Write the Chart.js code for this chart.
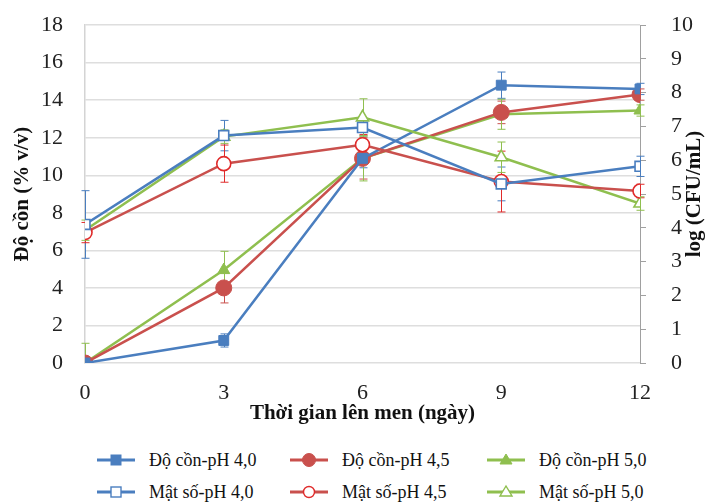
<!DOCTYPE html>
<html>
<head>
<meta charset="utf-8">
<script src="https://cdn.jsdelivr.net/npm/chart.js@4.4.1/dist/chart.umd.min.js"></script>
<style>
  html, body { margin: 0; padding: 0; background: #fff; }
  #wrap { position: relative; width: 705px; height: 503px; }
  #legend { position: absolute; left: 0; top: 440px; width: 705px; height: 63px;
    font-family: "Liberation Serif", "DejaVu Serif", serif; font-size: 18px; color: #111; }
  .item { position: absolute; display: flex; align-items: center; height: 24px; }
  .item svg { margin-right: 14px; }
</style>
</head>
<body>
<div id="wrap">
  <canvas id="chart" width="705" height="440"></canvas>
  <div id="legend"></div>
</div>
<script>
  "use strict";

  var days = [0, 3, 6, 9, 12];
  var leftTicks = [0, 2, 4, 6, 8, 10, 12, 14, 16, 18];
  var rightTicks = [0, 1, 2, 3, 4, 5, 6, 7, 8, 9, 10];

  // alcohol content (% v/v), left axis
  var alcPH40 = [0, 1.2, 10.9, 14.8, 14.6];
  var alcPH45 = [0, 4.0, 10.9, 13.35, 14.3];
  var alcPH50 = [0, 4.95, 10.9, 13.25, 13.45];
  var alcErr40 = [0, 0.35, 0.5, 0.7, 0.3];
  var alcErr45 = [0, 0.8, 1.1, 0.6, 0.3];
  var alcErr50 = [1.05, 1.0, 1.2, 0.8, 0.3];

  // cell density log(CFU/mL), right axis
  var denPH40 = [4.1, 6.73, 6.97, 5.3, 5.82];
  var denPH45 = [3.86, 5.9, 6.46, 5.37, 5.09];
  var denPH50 = [3.93, 6.7, 7.27, 6.09, 4.72];
  var denErr40 = [1.0, 0.45, 0.25, 0.5, 0.3];
  var denErr45 = [0.3, 0.55, 0.3, 0.9, 0.2];
  var denErr50 = [0.3, 0.2, 0.55, 0.45, 0.2];

  var BLUE = "#4a7ebf";
  var RED = "#c9504d";
  var RED_HOLLOW = "#e02b2b";
  var GREEN = "#8fbf4f";
  var SERIF = "'Liberation Serif', 'DejaVu Serif', serif";

  function pts(vals) {
    return days.map(function (d, i) { return { x: d, y: vals[i] }; });
  }

  function ds(label, vals, err, axis, color, markerColor, style, filled, radius) {
    return {
      label: label,
      data: pts(vals),
      errors: err,
      yAxisID: axis,
      borderColor: color,
      borderWidth: 2.5,
      pointStyle: style,
      pointRadius: radius,
      pointBorderWidth: filled ? 1 : 1.6,
      pointBorderColor: markerColor,
      pointBackgroundColor: filled ? markerColor : "#ffffff",
      errColor: markerColor,
      filled: filled,
      fill: false,
      tension: 0
    };
  }

  var datasets = [
    ds("Mật số-pH 4,0", denPH40, denErr40, "yR", BLUE, BLUE, "rect", false, 7),
    ds("Mật số-pH 4,5", denPH45, denErr45, "yR", RED, RED_HOLLOW, "circle", false, 7),
    ds("Mật số-pH 5,0", denPH50, denErr50, "yR", GREEN, GREEN, "triangle", false, 7),
    ds("Độ cồn-pH 4,0", alcPH40, alcErr40, "y", BLUE, BLUE, "rect", true, 7),
    ds("Độ cồn-pH 4,5", alcPH45, alcErr45, "y", RED, RED, "circle", true, 8),
    ds("Độ cồn-pH 5,0", alcPH50, alcErr50, "y", GREEN, GREEN, "triangle", true, 7)
  ];

  var errorBars = {
    id: "errorBars",
    beforeDatasetsDraw: function (chart) {
      var ctx = chart.ctx;
      var area = chart.chartArea;
      ctx.save();
      ctx.beginPath();
      ctx.rect(area.left - 6, area.top, area.right - area.left + 12, area.bottom - area.top);
      ctx.clip();
      chart.data.datasets.forEach(function (d) {
        var ys = chart.scales[d.yAxisID];
        var xs = chart.scales.x;
        ctx.strokeStyle = d.errColor;
        ctx.lineWidth = 1;
        d.data.forEach(function (p, i) {
          var e = d.errors[i];
          if (!e) return;
          var px = Math.round(xs.getPixelForValue(p.x)) + 0.5;
          var top = ys.getPixelForValue(p.y + e);
          var bot = ys.getPixelForValue(p.y - e);
          ctx.beginPath();
          ctx.moveTo(px, top); ctx.lineTo(px, bot);
          ctx.moveTo(px - 4, top); ctx.lineTo(px + 4, top);
          ctx.moveTo(px - 4, bot); ctx.lineTo(px + 4, bot);
          ctx.stroke();
        });
      });
      ctx.restore();
    }
  };

  var rightTitle = {
    id: "rightTitle",
    afterDraw: function (chart) {
      var ctx = chart.ctx;
      var area = chart.chartArea;
      ctx.save();
      ctx.translate(695, (area.top + area.bottom) / 2);
      ctx.rotate(-Math.PI / 2);
      ctx.textAlign = "center";
      ctx.textBaseline = "middle";
      ctx.fillStyle = "#111";
      ctx.font = "bold 21px " + SERIF;
      ctx.fillText("log (CFU/mL)", 0, 0);
      ctx.restore();
    }
  };

  new Chart(document.getElementById("chart"), {
    type: "line",
    data: { datasets: datasets },
    options: {
      responsive: false,
      animation: false,
      layout: { padding: { top: 24, left: 10, right: 0, bottom: 14 } },
      plugins: { legend: { display: false }, tooltip: { enabled: false } },
      scales: {
        x: {
          type: "linear",
          min: 0, max: 12,
          afterBuildTicks: function (s) { s.ticks = days.map(function (v) { return { value: v }; }); },
          grid: { display: false },
          border: { display: false },
          ticks: { color: "#222", font: { family: SERIF, size: 22 }, padding: 9 },
          title: { display: true, text: "Thời gian lên men (ngày)", color: "#111",
            font: { family: SERIF, size: 21, weight: "bold" }, padding: { top: 2, bottom: 0 } },
          afterFit: function (s) { s.height = 63; }
        },
        y: {
          position: "left",
          min: 0, max: 18,
          afterBuildTicks: function (s) { s.ticks = leftTicks.map(function (v) { return { value: v }; }); },
          grid: { color: "#dedede", lineWidth: 1.5, drawTicks: true, tickLength: 16, tickColor: "rgba(0,0,0,0)" },
          border: { display: true, color: "#d4d4d4", width: 1.5 },
          ticks: { color: "#222", font: { family: SERIF, size: 22, lineHeight: 0.7 }, padding: 6 },
          title: { display: true, text: "Độ cồn (% v/v)", color: "#111",
            font: { family: SERIF, size: 21, weight: "bold" }, padding: { top: 0, bottom: 4 } },
          afterFit: function (s) { s.width = 75; }
        },
        yR: {
          position: "right",
          min: 0, max: 10,
          afterBuildTicks: function (s) { s.ticks = rightTicks.map(function (v) { return { value: v }; }); },
          grid: { drawOnChartArea: false, drawTicks: true, tickLength: 6, color: "#a0a0a0" },
          border: { display: true, color: "#a0a0a0", width: 1 },
          ticks: { color: "#222", font: { family: SERIF, size: 22, lineHeight: 0.01 }, padding: 25 },
          afterFit: function (s) { s.width = 65; }
        }
      }
    },
    plugins: [errorBars, rightTitle]
  });

  // legend, laid out like the reference: two rows of three
  var legendOrder = [3, 4, 5, 0, 1, 2];
  var colX = [97, 290, 487];
  var rowY = [8, 40];
  function markerSvg(d) {
    var c = d.pointBorderColor;
    var f = d.filled ? c : "#fff";
    var sw = d.filled ? 1 : 1.4;
    var shape;
    if (d.pointStyle === "rect") {
      shape = '<rect x="14" y="7" width="10" height="10" fill="' + f + '" stroke="' + c + '" stroke-width="' + sw + '"/>';
    } else if (d.pointStyle === "circle") {
      shape = '<circle cx="19" cy="12" r="' + (d.filled ? 6.5 : 5.5) + '" fill="' + f + '" stroke="' + c + '" stroke-width="' + sw + '"/>';
    } else {
      shape = '<polygon points="19,6 25,16 13,16" fill="' + f + '" stroke="' + c + '" stroke-width="' + sw + '"/>';
    }
    return '<svg width="38" height="24"><line x1="0" y1="12" x2="38" y2="12" stroke="' + d.borderColor +
      '" stroke-width="3"/>' + shape + '</svg>';
  }
  var legendEl = document.getElementById("legend");
  legendOrder.forEach(function (idx, k) {
    var d = datasets[idx];
    var el = document.createElement("div");
    el.className = "item";
    el.style.left = colX[k % 3] + "px";
    el.style.top = rowY[Math.floor(k / 3)] + "px";
    el.innerHTML = markerSvg(d) + "<span>" + d.label + "</span>";
    legendEl.appendChild(el);
  });
</script>
</body>
</html>
